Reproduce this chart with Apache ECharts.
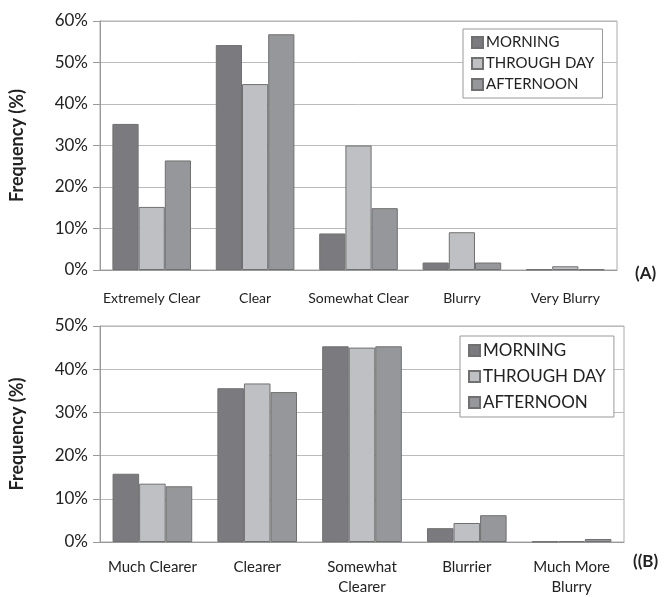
<!doctype html>
<html lang="en">
<head>
  <meta charset="UTF-8">
  <title>Frequency chart</title>
</head>
<body style="margin:0">
<div id="main" style="width: 670px;height: 597px"></div>
<script src="https://cdn.jsdelivr.net/npm/echarts@6/dist/echarts.min.js"></script>
<script>
    // panel A
    const catsA = ['Extremely Clear', 'Clear', 'Somewhat Clear', 'Blurry', 'Very Blurry']
    const morningA = [35.2, 54.2, 8.8, 1.8, 0.15]
    const throughA = [15.2, 44.8, 30.0, 9.1, 0.9]
    const afternoonA = [26.4, 56.8, 14.9, 1.8, 0.15]
    // panel B
    const catsB = ['Much Clearer', 'Clearer', 'Somewhat\nClearer', 'Blurrier', 'Much More\nBlurry']
    const morningB = [15.8, 35.6, 45.3, 3.2, 0.1]
    const throughB = [13.5, 36.7, 45.0, 4.4, 0.2]
    const afternoonB = [12.9, 34.7, 45.3, 6.2, 0.7]

    const names = ['MORNING', 'THROUGH DAY', 'AFTERNOON']
    const colors = ['#7b7b7f', '#bfc0c3', '#96979b']
    const font = 'Lato, "Open Sans", sans-serif'

    let myCharts = echarts.init(document.querySelector('#main'))

    function bars(name, i, data, idx) {
        return {
            name: name,
            type: 'bar',
            xAxisIndex: idx,
            yAxisIndex: idx,
            data: data,
            barGap: '0%',
            barCategoryGap: '24%',
            itemStyle: {color: colors[i], borderColor: '#707070', borderWidth: 1},
            emphasis: {disabled: true}
        }
    }

    function yAx(idx, max) {
        return {
            type: 'value',
            gridIndex: idx,
            min: 0,
            max: max,
            interval: 10,
            name: 'Frequency (%)',
            nameLocation: 'middle',
            nameGap: 74,
            nameTextStyle: {fontFamily: font, fontSize: 18, fontWeight: 'bold', color: '#222'},
            axisLine: {show: true, lineStyle: {color: '#999'}},
            axisTick: {show: true, length: 7, lineStyle: {color: '#999'}},
            axisLabel: {formatter: '{value}%', fontFamily: font, fontSize: 17, color: '#222', margin: 12},
            splitLine: {lineStyle: {color: '#bbb'}}
        }
    }

    function xAx(idx, cats, size, margin) {
        return {
            type: 'category',
            gridIndex: idx,
            data: cats,
            axisLine: {lineStyle: {color: '#999'}},
            axisTick: {show: false},
            axisLabel: {fontFamily: font, fontSize: size, color: '#222', margin: margin, lineHeight: 20, interval: 0}
        }
    }

    function legendAt(idx, left, top, size, gap) {
        return {
            data: names,
            orient: 'vertical',
            left: left,
            top: top,
            icon: 'rect',
            itemWidth: 11,
            itemHeight: 11,
            itemGap: gap,
            padding: [6, 8, 6, 8],
            backgroundColor: '#fff',
            borderColor: '#999',
            borderWidth: 1,
            selectedMode: false,
            textStyle: {fontFamily: font, fontSize: size, color: '#222', padding: [0, 0, 0, -2]}
        }
    }

    myCharts.setOption({
        animation: false,
        grid: [
            {left: 98, top: 21, width: 519, height: 249, show: true, borderColor: '#aaa', containLabel: false},
            {left: 97, top: 326, width: 527, height: 223, show: true, borderColor: '#aaa', containLabel: false}
        ],
        legend: [
            legendAt(0, 463, 29, 15, 6),
            legendAt(1, 460, 336, 17, 9)
        ],
        xAxis: [xAx(0, catsA, 14, 18), xAx(1, catsB, 15, 15)],
        yAxis: [yAx(0, 60), yAx(1, 50)],
        graphic: [
            {type: 'text', left: 635, top: 265, style: {text: '(A)', font: 'bold 17px ' + font, fill: '#222'}},
            {type: 'text', left: 633, top: 553, style: {text: '((B)', font: 'bold 17px ' + font, fill: '#222'}}
        ],
        series: [
            bars(names[0], 0, morningA, 0),
            bars(names[1], 1, throughA, 0),
            bars(names[2], 2, afternoonA, 0),
            bars(names[0], 0, morningB, 1),
            bars(names[1], 1, throughB, 1),
            bars(names[2], 2, afternoonB, 1)
        ]
    })
</script>
</body>
</html>
